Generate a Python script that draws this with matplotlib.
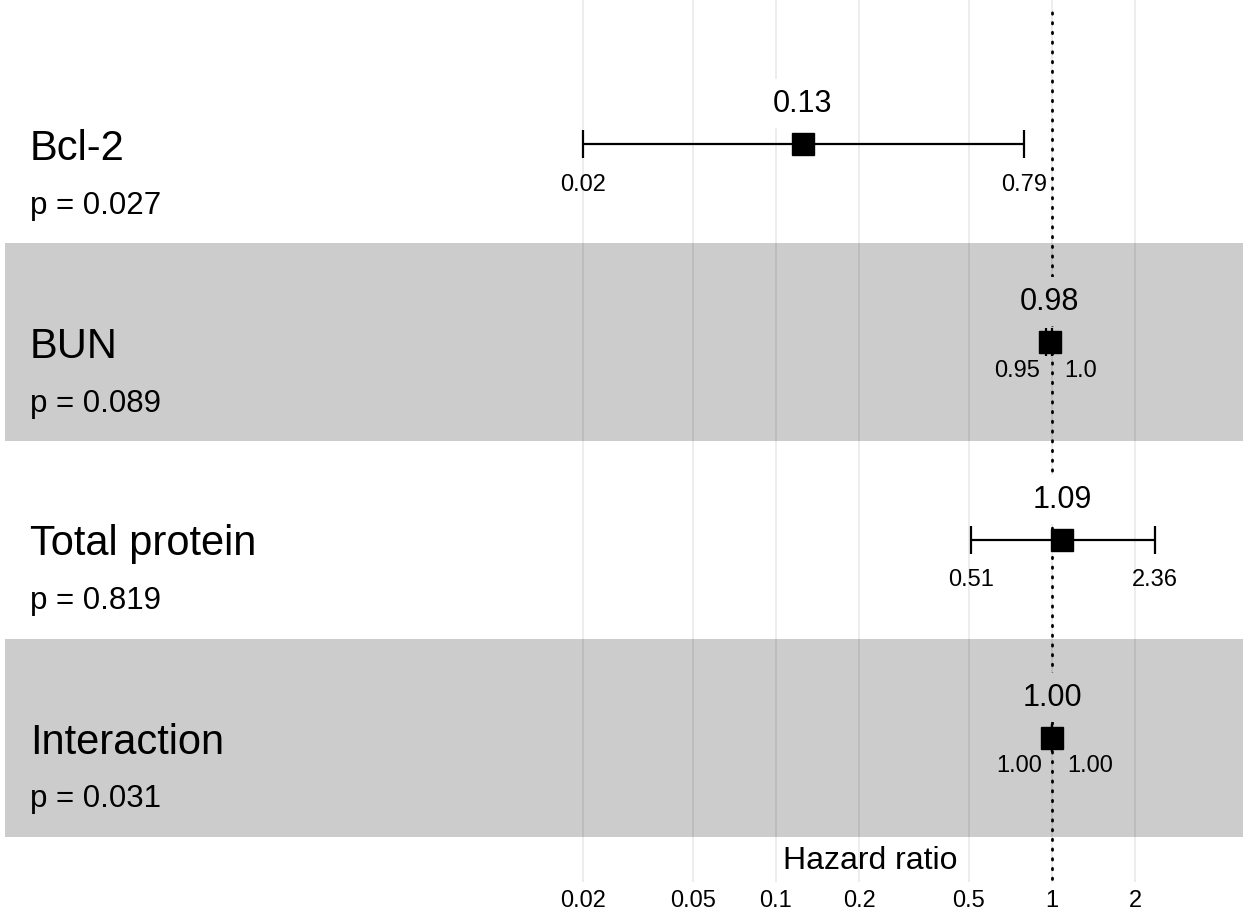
import matplotlib
matplotlib.use("Agg")
import matplotlib.pyplot as plt
import matplotlib.transforms as mtransforms
import numpy as np

plt.rcParams['font.family'] = ['Liberation Sans', 'DejaVu Sans']

# Cox model results (top row first)
variables = ['Bcl-2', 'BUN', 'Total protein', 'Interaction']
p_values = ['0.027', '0.089', '0.819', '0.031']
hr = [0.125, 0.98, 1.09, 1.0]
ci_low = [0.02, 0.95, 0.51, 1.0]
ci_high = [0.79, 1.0, 2.36, 1.0]
hr_labels = ['0.13', '0.98', '1.09', '1.00']
low_labels = ['0.02', '0.95', '0.51', '1.00']
high_labels = ['0.79', '1.0', '2.36', '1.00']
x_ticks = [0.02, 0.05, 0.1, 0.2, 0.5, 1, 2]
x_ticklabels = ['0.02', '0.05', '0.1', '0.2', '0.5', '1', '2']

W, H = 1248, 914
fig = plt.figure(figsize=(W / 100, H / 100), dpi=100)
ax = fig.add_axes([5 / W, (H - 882) / H, 1238 / W, 882 / H])

band_color = '#cccccc'
px = 0.72  # points per pixel

n = len(variables)
ypos = np.arange(n, 0, -1)

# alternating background bands
for i, y in enumerate(ypos):
    if i % 2 == 1:
        ax.axhspan(y - 0.5, y + 0.5, color=band_color, lw=0, zorder=0)

ax.set_xscale('log')
ax.set_xlim(10 ** -3.793, 10 ** 0.692)
ax.set_ylim(1 - 144.5 / 198, 1 + 737.5 / 198)

ax.set_xticks(x_ticks)
ax.set_xticklabels(x_ticklabels, fontsize=17)
ax.xaxis.set_minor_locator(matplotlib.ticker.NullLocator())
ax.tick_params(axis='x', length=0, pad=6)
ax.set_yticks([])
for s in ax.spines.values():
    s.set_visible(False)
ax.set_facecolor('none')
ax.grid(axis='x', color='black', alpha=0.08, lw=1.3, zorder=1)
ax.set_axisbelow(False)

# reference line at HR = 1
ax.axvline(1, ymin=0.003, ymax=0.991, color='black', lw=2,
           linestyle=(0, (0.5, 3.0)), dash_capstyle='round', zorder=2)

# estimates with confidence intervals
xerr = [np.array(hr) - np.array(ci_low), np.array(ci_high) - np.array(hr)]
ax.errorbar(hr, ypos, xerr=xerr, fmt='s', color='black', ms=16,
            elinewidth=1.6, capsize=10, capthick=1.6, zorder=4)

left_tr = mtransforms.blended_transform_factory(ax.transAxes, ax.transData)
x_left = 25 / 1238

for i, y in enumerate(ypos):
    bg = band_color if i % 2 == 1 else 'white'
    # variable name and p-value
    ax.annotate(variables[i], (x_left, y), xycoords=left_tr,
                xytext=(0, -16 * px), textcoords='offset points',
                fontsize=30, ha='left', va='baseline')
    ax.annotate('p = ' + p_values[i], (x_left, y), xycoords=left_tr,
                xytext=(0, -70 * px), textcoords='offset points',
                fontsize=22.5, ha='left', va='baseline')
    # hazard ratio label
    ax.annotate(hr_labels[i], (hr[i], y), xytext=(0, 32 * px),
                textcoords='offset points', fontsize=22, ha='center',
                va='baseline', zorder=3,
                bbox=dict(boxstyle='square,pad=0.3', fc=bg, ec='none'))
    # CI labels
    narrow = np.log10(ci_high[i] / ci_low[i]) < 0.25
    if narrow:
        ax.annotate(low_labels[i], (hr[i], y), xytext=(-10 * px, -35 * px),
                    textcoords='offset points', fontsize=17, ha='right',
                    va='baseline')
        ax.annotate(high_labels[i], (hr[i], y), xytext=(15 * px, -35 * px),
                    textcoords='offset points', fontsize=17, ha='left',
                    va='baseline')
    else:
        ax.annotate(low_labels[i], (ci_low[i], y), xytext=(0, -47 * px),
                    textcoords='offset points', fontsize=17, ha='center',
                    va='baseline')
        ax.annotate(high_labels[i], (ci_high[i], y), xytext=(0, -47 * px),
                    textcoords='offset points', fontsize=17, ha='center',
                    va='baseline')

fig.text(870 / W, (H - 869) / H, 'Hazard ratio', fontsize=23,
         ha='center', va='baseline')

fig.savefig('out.png', dpi=100, facecolor='white')
